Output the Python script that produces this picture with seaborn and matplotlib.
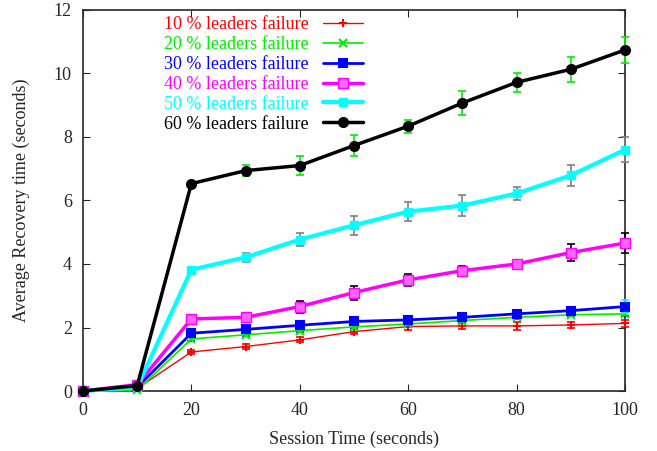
import numpy as np
import pandas as pd
import seaborn as sns
import matplotlib.pyplot as plt

# session time (seconds)
session_time = [0, 10, 20, 30, 40, 50, 60, 70, 80, 90, 100]

# average recovery time per failure level, with error bar half-widths
fail10 = [0, 0.08, 1.23, 1.40, 1.61, 1.87, 2.03, 2.05, 2.05, 2.08, 2.13]
fail10_err = [0, 0, 0.06, 0.08, 0.08, 0.08, 0.10, 0.10, 0.12, 0.10, 0.10]
fail20 = [0, 0.02, 1.64, 1.77, 1.90, 2.02, 2.11, 2.22, 2.32, 2.40, 2.43]
fail20_err = [0, 0, 0.05, 0.05, 0.05, 0.05, 0.05, 0.05, 0.05, 0.05, 0.08]
fail30 = [0, 0.12, 1.82, 1.94, 2.07, 2.19, 2.24, 2.32, 2.43, 2.53, 2.66]
fail30_err = [0, 0, 0.05, 0.05, 0.05, 0.05, 0.05, 0.05, 0.06, 0.06, 0.20]
fail40 = [0, 0.20, 2.27, 2.32, 2.66, 3.10, 3.50, 3.79, 4.00, 4.36, 4.66]
fail40_err = [0, 0, 0.05, 0.06, 0.19, 0.22, 0.20, 0.15, 0.05, 0.27, 0.30]
fail50 = [0, 0.12, 3.82, 4.21, 4.77, 5.22, 5.65, 5.84, 6.22, 6.79, 7.60]
fail50_err = [0, 0, 0.06, 0.14, 0.21, 0.30, 0.30, 0.32, 0.20, 0.33, 0.39]
fail60 = [0, 0.17, 6.53, 6.94, 7.10, 7.73, 8.34, 9.07, 9.72, 10.13, 10.74]
fail60_err = [0, 0, 0, 0.18, 0.30, 0.33, 0.20, 0.39, 0.30, 0.39, 0.40]

labels = ['10 % leaders failure', '20 % leaders failure', '30 % leaders failure',
          '40 % leaders failure', '50 % leaders failure', '60 % leaders failure']
values = [fail10, fail20, fail30, fail40, fail50, fail60]
errors = [fail10_err, fail20_err, fail30_err, fail40_err, fail50_err, fail60_err]

# styling (gnuplot look)
colors = ['#ff0000', '#00ee00', '#0000ff', '#ff00ff', '#00ffff', '#000000']
err_colors = ['#ff0000', '#0000ff', '#00ffff', '#000000', '#808080', '#00ee00']
markers = ['+', 'x', 's', 's', 's', 'o']
msizes = [6, 6, 5.5, 7, 6, 7]
lwidths = [1.0, 1.2, 2.0, 2.5, 3.0, 2.5]

sns.set_style('ticks')
plt.rcParams['font.family'] = ['Liberation Serif', 'DejaVu Serif']

fig = plt.figure(figsize=(6.57, 4.51), dpi=100)
ax = fig.add_axes([0.1263, 0.133, 0.825, 0.845])

for i in range(len(values)):
    df = pd.DataFrame({'x': session_time, 'y': values[i]})
    ax.errorbar(df['x'], df['y'], yerr=errors[i], fmt='none', ecolor=err_colors[i],
                elinewidth=1.2, capsize=3, capthick=1.2, zorder=2 + i, clip_on=False)
    mfc = colors[i]
    if i == 3:
        mfc = '#ff66ff'
    sns.lineplot(data=df, x='x', y='y', ax=ax, color=colors[i], marker=markers[i],
                 markersize=msizes[i], linewidth=lwidths[i], markerfacecolor=mfc,
                 markeredgecolor=colors[i], markeredgewidth=1.5 if i < 3 else 1.0,
                 label=labels[i], zorder=3 + i, clip_on=False)

ax.set_xlim(0, 100)
ax.set_ylim(0, 12)
ax.set_xticks([0, 20, 40, 60, 80, 100])
ax.set_yticks([0, 2, 4, 6, 8, 10, 12])
ax.tick_params(direction='in', top=True, right=True, labelsize=13, length=5, pad=8)
for s in ax.spines.values():
    s.set_linewidth(1.2)
ax.set_xlabel('Session Time (seconds)', fontsize=13, labelpad=8)
ax.set_ylabel('Average Recovery time (seconds)', fontsize=13, labelpad=17)

leg = ax.legend(loc='upper left', bbox_to_anchor=(0.13, 1.012), frameon=False,
                markerfirst=False, fontsize=13, handlelength=2.2, handletextpad=0.8,
                labelspacing=0.16, borderaxespad=0.2)
for txt, c in zip(leg.get_texts(), colors):
    txt.set_color(c)

fig.savefig('out.png', dpi=100)
plt.close('all')
